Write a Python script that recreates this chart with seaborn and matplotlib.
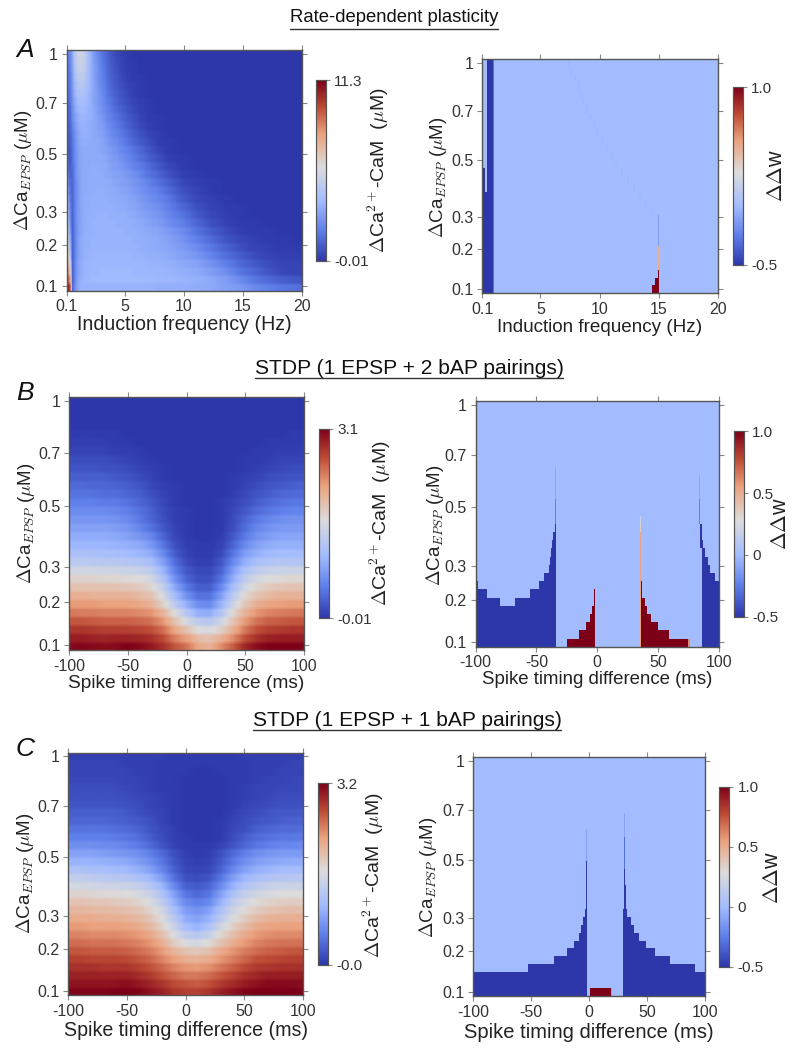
import numpy as np
import matplotlib
matplotlib.use("Agg")
import matplotlib.pyplot as plt
from matplotlib.colors import LinearSegmentedColormap
from matplotlib.lines import Line2D
import seaborn as sns

sns.set_style("white")
plt.rcParams["font.family"] = ["Liberation Sans", "DejaVu Sans"]
plt.rcParams["mathtext.fontset"] = "cm"

W, H = 800, 1053
N_ROWS = 30

# colour scale
CMAP_STOPS = [(0.0, "#2d37aa"), (0.17, "#5f80ea"), (0.33, "#a2bbff"), (0.52, "#dcdcdc"),
              (0.70, "#eba27e"), (0.85, "#bd4a35"), (1.0, "#7c0018")]

# y-axis tick labels and their row position (row units from the top edge)
CA_LABELS = ["1", "0.7", "0.5", "0.3", "0.2", "0.1"]
CA_ROWS = [0.45, 6.65, 12.9, 20.2, 24.3, 29.45]
FREQ_TICKS = [0.1, 5, 10, 15, 20]
FREQ_LABELS = ["0.1", "5", "10", "15", "20"]
DT_TICKS = [-100, -50, 0, 50, 100]
DT_LABELS = ["-100", "-50", "0", "50", "100"]

# ---- Panel A left: percent of colour range at these frequencies above 0.1 Hz; missing values are 0
A_FREQ = [0, .3, .5, .7, .9, 1.1, 1.3, 1.5, 1.75, 2.05, 2.35, 2.65, 3.0, 3.4, 3.8, 4.25, 4.75, 5.25, 5.75,
          6.35, 7.05, 7.75, 8.7, 9.9, 11.1, 12.3, 13.5, 14.7, 15.9, 17.1, 18.3, 19.9]
A_CAM = [
 [18,20,28,40,46,47,47,45,38,30,24,20,15,11,7,4,2,1],
 [18,19,27,39,45,46,46,44,38,31,25,21,16,12,8,5,3,1,1],
 [16,18,26,37,43,45,45,43,37,31,26,22,17,13,9,6,3,2,1],
 [15,17,25,35,41,43,43,41,37,31,26,22,18,14,10,7,4,2,1,1],
 [14,16,24,33,38,40,40,39,36,31,27,23,19,15,11,8,5,3,2,1],
 [13,15,23,31,36,37,37,37,34,30,27,24,20,16,12,9,6,4,2,1],
 [12,14,22,29,33,35,35,35,33,30,27,24,21,17,14,10,7,5,3,2,1],
 [11,13,21,27,31,33,33,33,32,30,28,25,22,19,15,12,9,6,4,2,1],
 [11,12,20,25,29,31,32,32,31,30,28,26,24,20,17,14,11,8,6,3,1,1],
 [10,11,18,24,27,30,31,31,30,29,28,26,25,22,19,16,13,10,7,4,2,1],
 [10,10,16,22,26,29,30,30,30,29,28,27,26,23,20,18,15,12,9,6,3,2],
 [10,9,15,21,25,28,29,29,29,29,28,28,27,25,22,20,17,14,11,8,5,2,1],
 [11,8,14,20,25,27,28,28,28,28,28,28,27,26,24,22,19,17,14,11,7,4,1],
 [14,8,14,20,24,27,28,28,28,28,28,28,28,27,25,24,21,19,16,13,9,6,2,1],
 [18,9,13,19,24,27,28,28,28,29,29,29,28,28,26,25,23,21,18,16,12,8,4,1],
 [24,10,12,19,24,26,28,28,29,29,29,29,29,28,27,26,25,23,21,18,14,11,6,2,1],
 [30,12,12,18,23,26,28,28,29,29,29,29,29,29,28,27,26,25,23,21,17,14,9,4,2,1],
 [36,14,11,18,23,26,28,28,29,29,29,30,30,29,29,28,27,26,24,22,19,17,12,6,3,1],
 [41,16,11,18,23,26,28,29,29,30,30,30,30,30,29,29,28,27,26,24,21,19,15,8,4,2,1],
 [46,18,11,18,23,26,28,29,29,30,30,30,30,30,30,29,29,28,27,25,23,21,17,11,6,3,1,1],
 [50,20,10,18,23,26,28,29,30,30,30,31,31,31,30,30,30,29,28,27,25,23,19,14,8,4,2,1],
 [54,22,10,17,23,26,28,29,30,30,31,31,31,31,31,30,30,30,29,28,26,25,21,17,11,6,3,1,1],
 [58,25,10,17,23,26,28,29,30,30,31,31,31,31,31,31,31,30,30,29,28,27,24,20,14,9,5,2,1,1],
 [62,30,10,17,23,27,29,30,30,31,31,31,31,31,31,31,31,31,30,30,29,28,26,22,17,12,7,4,2,1,1],
 [66,35,10,17,24,27,29,30,30,31,31,31,31,31,31,31,31,31,31,30,29,28,27,24,20,15,10,6,3,2,1,1],
 [72,40,10,17,24,27,29,30,31,31,32,32,32,32,32,32,32,32,31,31,30,30,28,26,23,18,13,9,5,3,2,2],
 [78,48,10,18,25,28,30,31,31,32,32,32,32,32,32,32,32,32,32,32,31,31,30,28,26,22,17,12,8,5,3,3],
 [84,58,10,18,25,28,30,31,32,32,32,32,33,33,33,33,33,33,32,32,32,32,31,30,28,25,21,15,11,7,4,3],
 [92,70,10,18,26,29,31,32,32,33,33,33,33,33,33,33,33,33,33,33,33,32,32,31,30,28,25,20,15,12,9,7],
 [100,85,11,20,27,30,31,31,31,31,31,31,31,31,31,31,31,31,31,31,31,30,30,30,29,28,26,24,20,17,15,13],
]

# ---- Panels B and C left: percent of colour range, columns at -100..100 ms, step 10
DT_COLS = [-100, -90, -80, -70, -60, -50, -40, -30, -20, -10, 0, 10, 20, 30, 40, 50, 60, 70, 80, 90, 100]
B_CAM = [
 [0]*21, [0]*21, [0]*21, [0]*21,
 [1,1,1,1,1,0,0,0,0,0,0,0,0,0,0,0,0,0,0,1,1],
 [2,2,2,2,1,1,0,0,0,0,0,0,0,0,0,0,0,1,1,1,1],
 [3,3,3,3,2,2,1,0,0,0,0,0,0,0,0,0,1,1,2,2,2],
 [5,5,5,5,4,3,2,1,0,0,0,0,0,0,0,1,1,2,3,3,3],
 [7,7,7,6,6,5,3,2,1,0,0,0,0,0,0,1,2,3,4,5,5],
 [9,9,9,9,8,7,5,3,1,0,0,0,0,0,1,2,3,5,6,7,7],
 [12,12,11,11,10,9,7,4,2,1,0,0,0,0,1,3,5,7,8,9,10],
 [14,14,14,13,13,11,9,6,3,1,0,0,0,0,2,4,7,9,11,12,12],
 [17,17,17,16,16,14,11,8,4,1,0,0,0,1,3,6,9,12,14,15,15],
 [20,20,20,20,19,17,14,10,5,2,1,0,0,1,4,8,12,15,17,18,18],
 [23,23,23,23,22,20,16,11,6,2,1,0,0,1,5,11,16,19,21,22,22],
 [26,26,26,26,25,23,19,14,8,3,1,0,0,1,6,13,19,22,24,24,24],
 [29,29,29,29,28,26,23,19,11,4,1,0,0,2,8,16,22,25,27,27,27],
 [32,32,32,32,31,30,28,24,15,6,2,1,1,3,11,20,26,29,30,30,30],
 [36,36,36,35,35,34,32,29,20,9,3,1,1,5,15,25,30,33,34,34,34],
 [41,41,41,40,40,39,38,35,26,13,5,2,2,8,20,30,36,38,39,39,39],
 [48,48,48,47,47,46,45,42,32,17,8,4,4,11,25,37,43,45,46,46,46],
 [55,55,55,54,54,53,52,49,38,22,11,6,6,15,30,43,49,52,53,54,54],
 [60,60,60,60,60,59,58,54,44,28,16,9,9,20,36,48,55,58,59,60,60],
 [66,66,65,65,65,65,63,60,50,35,22,14,14,26,42,54,60,63,65,65,65],
 [71,71,71,70,70,70,68,65,56,42,30,21,20,32,47,59,66,69,70,71,71],
 [77,76,76,75,75,75,74,72,64,52,40,30,29,40,54,65,72,75,76,77,77],
 [83,83,82,81,81,81,80,78,72,60,50,42,40,48,60,71,78,81,82,83,83],
 [89,89,88,87,87,87,86,84,79,68,60,52,50,56,66,77,84,87,88,89,89],
 [94,94,93,92,93,93,92,90,85,76,70,62,60,66,74,84,90,93,94,94,94],
 [98,99,98,97,98,100,98,95,90,83,78,68,65,74,82,92,97,100,100,100,99],
]
C_CAM = [
 [2,2,2,2,2,2,2,2,2,1,1,1,1,1,1,2,2,2,2,2,2],
 [3,3,3,3,3,2,2,2,1,1,1,1,1,1,1,1,2,2,2,3,3],
 [3,3,3,3,3,3,2,2,1,1,1,0,0,1,1,1,2,2,3,3,3],
 [4,4,4,4,4,3,3,2,1,1,0,0,0,0,1,1,2,3,3,4,4],
 [5,5,5,5,5,4,3,2,1,1,0,0,0,0,1,2,3,3,4,4,4],
 [6,6,6,6,6,5,4,3,2,1,0,0,0,0,1,2,3,4,5,5,5],
 [7,7,7,7,7,6,5,3,2,1,0,0,0,0,1,3,4,5,6,6,6],
 [9,9,9,9,9,8,6,4,3,1,0,0,0,0,2,4,5,7,8,8,8],
 [11,11,11,11,10,9,8,6,3,1,0,0,0,1,3,5,7,8,9,10,10],
 [14,14,14,14,13,12,10,7,4,2,0,0,0,1,4,6,9,11,12,12,13],
 [17,17,17,17,16,15,13,9,5,2,1,0,0,1,5,9,12,14,15,15,16],
 [21,21,21,20,20,18,16,12,7,3,1,1,1,3,7,11,15,17,19,19,20],
 [26,26,26,25,24,23,21,17,12,6,2,1,2,6,12,17,21,23,24,24,24],
 [31,31,31,30,29,28,25,21,15,8,3,2,3,8,15,21,25,27,28,29,29],
 [37,37,36,35,34,33,30,26,19,10,4,3,4,10,19,26,30,32,34,34,34],
 [43,43,42,41,40,39,37,33,25,14,6,5,7,15,25,32,36,38,39,40,40],
 [49,49,48,47,47,46,44,40,32,20,10,8,11,20,31,38,42,45,46,46,46],
 [55,55,54,53,53,52,50,46,38,26,15,12,15,26,37,44,48,50,52,52,52],
 [60,60,59,59,58,57,55,51,43,31,20,17,20,31,42,49,53,55,57,57,57],
 [64,64,63,63,62,61,59,55,48,36,25,22,26,37,47,53,57,60,61,62,62],
 [67,67,67,66,66,65,63,59,52,41,29,26,31,42,51,57,62,65,66,66,66],
 [71,71,70,70,70,69,67,63,56,46,35,31,37,48,56,62,67,69,70,70,70],
 [75,75,74,74,74,73,71,68,61,51,43,40,45,54,61,67,71,73,74,74,74],
 [79,79,78,78,78,77,75,72,66,57,51,49,53,60,66,71,75,77,78,78,78],
 [83,83,82,82,82,81,79,76,71,64,60,58,61,67,72,76,79,81,82,83,83],
 [87,87,86,86,86,85,83,80,75,70,66,65,67,72,76,80,84,85,86,87,87],
 [90,90,90,89,89,89,87,84,80,75,72,71,73,77,81,85,88,89,90,90,90],
 [93,93,93,93,93,93,91,88,84,80,77,77,79,83,86,90,92,94,94,94,94],
 [96,96,96,96,96,97,95,92,89,85,83,82,84,88,91,94,96,98,98,98,97],
 [99,99,99,99,100,100,99,96,93,89,87,87,89,93,96,99,100,100,100,100,99],
]

# ---- Right panels: (row, x from, x to, delta-w) patches over a background of 0
A_W_PATCHES = (
    [(k, 0.5, 1.0, -0.5) for k in range(30)] + [(k, 1.0, 1.1, -0.3) for k in range(30)]
    + [(k, 0.1, 0.5, -0.5) for k in range(17, 30)] + [(k, 0.1, 0.2, -0.5) for k in (12, 13)]
    + [(k, 0.1, 0.3, -0.5) for k in (14, 15, 16)] + [(k, 0.3, 0.5, 0.03) for k in (14, 15, 16)]
    + [(29, 14.4, 15.0, 1.0), (28, 14.7, 15.0, 1.0), (27, 14.9, 15.0, 1.0)]
    + [(k, 14.9, 15.0, 0.5) for k in (24, 25, 26)] + [(k, 14.9, 15.0, -0.12) for k in (20, 21, 22, 23)]
)
A_W_FAINT = [7.3,7.5,7.8,8.1,8.3,8.5,8.8,9.1,9.4,9.7,10.1,10.5,10.9,11.3,11.8,12.3,12.8,13.3,13.8,14.3,14.8]

B_W_PATCHES = (
    [(k, -100, -34, -0.5) for k in (25, 26, 27, 28, 29)]
    + [(24, -100, -80, -0.5), (24, -68, -34, -0.5), (23, -100, -91, -0.5), (23, -55, -34, -0.5),
       (22, -100, -98, -0.5), (22, -48, -34, -0.5), (21, -44, -34, -0.5), (20, -40, -34, -0.5),
       (19, -39, -34, -0.5), (18, -38, -34, -0.5), (17, -37, -34, -0.5), (16, -36, -34, -0.5),
       (15, -35, -34, -0.5)]
    + [(k, -35, -34, -0.08) for k in range(8, 12)] + [(k, -35, -34, -0.25) for k in range(12, 15)]
    + [(k, 86, 100, -0.5) for k in range(22, 30)]
    + [(21, 86, 97, -0.5), (20, 86, 93, -0.5), (19, 86, 91, -0.5), (18, 86, 89, -0.5),
       (17, 85, 87, -0.5), (16, 85, 86, -0.5), (15, 85, 86, -0.5)]
    + [(k, 84, 85, -0.08) for k in range(9, 12)] + [(k, 84, 85, -0.25) for k in range(12, 15)]
    + [(29, -25, -2, 1.0), (28, -15, -2, 1.0), (27, -9, -2, 1.0), (26, -6, -2, 1.0),
       (25, -4, -2, 1.0), (24, -3, -2, 1.0), (23, -3, -2, 1.0)]
    + [(29, 36, 75, 1.0), (29, 75, 76, 0.6), (28, 36, 59, 1.0), (27, 36, 50, 1.0), (26, 36, 44, 1.0),
       (25, 36, 41, 1.0), (24, 36, 39, 1.0), (23, 36, 37, 1.0), (22, 36, 37, 1.0)]
    + [(k, 35, 36, 0.55) for k in range(16, 30)] + [(14, 35, 36, 0.2), (15, 35, 36, 0.35)]
)

C_W_PATCHES = (
    [(k, -100, -2, -0.5) for k in (27, 28, 29)]
    + [(26, -53, -2, -0.5), (25, -30, -2, -0.5), (24, -19, -2, -0.5), (23, -13, -2, -0.5),
       (22, -9, -2, -0.5), (21, -7, -2, -0.5), (20, -5, -2, -0.5), (19, -4, -2, -0.5),
       (18, -3, -2, -0.5), (17, -3, -2, -0.5)]
    + [(k, -3, -2, -0.5) for k in range(13, 17)] + [(k, -3, -2, -0.1) for k in range(9, 13)]
    + [(k, 29, 100, -0.5) for k in (27, 28, 29)]
    + [(26, 29, 91, -0.5), (25, 29, 70, -0.5), (24, 29, 57, -0.5), (23, 29, 49, -0.5),
       (22, 29, 43, -0.5), (21, 29, 39, -0.5), (20, 29, 36, -0.5), (19, 29, 33, -0.5),
       (18, 30, 32, -0.5), (17, 30, 32, -0.5), (16, 30, 32, -0.5), (15, 30, 31, -0.5), (14, 30, 31, -0.5)]
    + [(k, 30, 31, -0.3) for k in range(10, 14)] + [(k, 30, 31, -0.1) for k in range(7, 10)]
    + [(29, 1, 19, 1.0), (29, 19, 20, 0.6)]
)

# ---- Layout in reference pixels: axes and colourbar (left, right, top, bottom), label centres, x-label size
PANELS = {
    "AL": dict(ax=(66.7, 301.7, 50, 290.7), cb=(316, 326, 80, 261), xl=(184, 325), yl=(23, 170), cl=(378, 170), xs=14.1),
    "AR": dict(ax=(482.3, 718.3, 59, 293.3), cb=(732.7, 742.7, 87.3, 265), xl=(600, 327), yl=(438, 177), cl=(777, 175), xs=13.6),
    "BL": dict(ax=(69, 304, 397.3, 650), cb=(319, 329, 429, 618.3), xl=(186, 683), yl=(26, 523), cl=(380, 523), xs=13.8),
    "BR": dict(ax=(475.7, 718.7, 401, 646.7), cb=(733.7, 743.7, 431.3, 616.7), xl=(597, 680), yl=(435, 525), cl=(780, 523), xs=13.4),
    "CL": dict(ax=(68, 303.3, 752.7, 995), cb=(318, 328, 783.3, 965), xl=(186, 1030), yl=(25, 873), cl=(373, 875), xs=14.1),
    "CR": dict(ax=(473.3, 705, 757.3, 996.3), cb=(719.3, 729.3, 786.7, 966.7), xl=(589, 1032), yl=(428, 877), cl=(772, 877), xs=14.5),
}
TITLES = [("Rate-dependent plasticity", 394, 18, 290, 498, 28.5, 13.3),
          ("STDP (1 EPSP + 2 bAP pairings)", 409, 369, 255, 563, 378, 15.1),
          ("STDP (1 EPSP + 1 bAP pairings)", 407, 721, 253, 561, 729.5, 15.1)]
LETTERS = [("A", 25, 50), ("B", 25, 393), ("C", 25, 749)]

CA_LABEL = r"$\Delta$Ca$_{EPSP}$ ($\mu$M)"
CAM_LABEL = r"$\Delta$Ca$^{2+}$-CaM  ($\mu$M)"
W_LABEL = r"$\Delta\Delta$w"
FREQ_LABEL = "Induction frequency (Hz)"
DT_LABEL = "Spike timing difference (ms)"

cmap = LinearSegmentedColormap.from_list("cam", CMAP_STOPS, N=512)
fig = plt.figure(figsize=(W/100, H/100), dpi=100)


def rect(l, r, t, b):
    return [l/W, 1-b/H, (r-l)/W, (b-t)/H]


def style(ax, key, xticks_frac, xlabels, xlabel, clabel, csize, cax, cticks, clabels, nx, ny):
    p = PANELS[key]
    for s in ax.spines.values():
        s.set_visible(True); s.set_color("#555555"); s.set_linewidth(1.0)
    ax.set_xticks([f*nx for f in xticks_frac]); ax.set_xticklabels(xlabels)
    ax.set_yticks([r/N_ROWS*ny for r in CA_ROWS]); ax.set_yticklabels(CA_LABELS, rotation=0)
    ax.tick_params(axis="both", length=3.8, width=0.8, color="#888888", labelcolor="#333333",
                   labelsize=11.5, pad=2.5, top=True, right=True, bottom=True, left=True,
                   labeltop=False, labelright=False)
    plt.setp(ax.get_xticklabels(), rotation=0)
    ax.set_xlabel(xlabel, fontsize=p["xs"], color="#222222", va="center")
    ax.xaxis.set_label_coords(p["xl"][0]/W, 1-p["xl"][1]/H, transform=fig.transFigure)
    ax.set_ylabel(CA_LABEL, fontsize=13.5, color="#222222", va="center", rotation=90)
    ax.yaxis.set_label_coords(p["yl"][0]/W, 1-p["yl"][1]/H, transform=fig.transFigure)
    cax.set_yticks(cticks); cax.set_yticklabels(clabels)
    cax.tick_params(length=3.0, width=0.8, color="#888888", labelcolor="#333333", labelsize=11, pad=3, right=True, left=False)
    for s in cax.spines.values():
        s.set_visible(True); s.set_color("#555555"); s.set_linewidth(0.8)
    cax.set_ylabel(clabel, fontsize=csize, color="#222222", va="center", rotation=90)
    cax.yaxis.set_label_coords(p["cl"][0]/W, 1-p["cl"][1]/H, transform=fig.transFigure)


def smooth_panel(key, table, xs, n_fine, vmax, vmin, xfrac, xlabels, xlabel, cticks, clabels):
    """Rows stay as soft bands; colour is shaded along x between the read columns, as in the reference."""
    p = PANELS[key]
    ax = fig.add_axes(rect(*p["ax"])); cax = fig.add_axes(rect(*p["cb"]))
    x = np.asarray(xs, float)
    pct = np.array([list(r) + [0]*(len(x)-len(r)) for r in table], float)
    z = vmin + pct/100*(vmax-vmin)
    fine = np.linspace(x[0], x[-1], n_fine)
    shaded = np.array([np.interp(fine, x, row) for row in z])
    shown = np.repeat(shaded, 3, axis=0)
    sns.heatmap(shown, ax=ax, cbar_ax=cax, cmap=cmap, vmin=vmin, vmax=vmax, xticklabels=False,
                yticklabels=False, shading="gouraud")
    ny, nx = shown.shape[0]-1, shown.shape[1]-1
    ax.set_xlim(0, nx); ax.set_ylim(ny, 0)
    style(ax, key, xfrac, xlabels, xlabel, CAM_LABEL, 14, cax, cticks, clabels, nx, ny)


def step_panel(key, n_cols, x0, dx, patches, xfrac, xlabels, xlabel, cticks, clabels, faint=None):
    p = PANELS[key]
    ax = fig.add_axes(rect(*p["ax"])); cax = fig.add_axes(rect(*p["cb"]))
    z = np.zeros((N_ROWS, n_cols))
    if faint:
        for k, f in enumerate(faint):
            i = int(round((f-x0)/dx)); z[k, i:i+2] = -0.012
    for k, a, b, v in patches:
        z[k, int(round((a-x0)/dx)):int(round((b-x0)/dx))] = v
    sns.heatmap(z, ax=ax, cbar_ax=cax, cmap=cmap, vmin=-0.5, vmax=1.0, xticklabels=False, yticklabels=False)
    style(ax, key, xfrac, xlabels, xlabel, W_LABEL, 15.5, cax, cticks, clabels, n_cols, N_ROWS)


freq_frac = [(f-0.1)/19.9 for f in FREQ_TICKS]
dt_frac = [(t+100)/200 for t in DT_TICKS]

smooth_panel("AL", A_CAM, A_FREQ, 200, 11.3, -0.01, freq_frac, FREQ_LABELS, FREQ_LABEL, [-0.01, 11.3], ["-0.01", "11.3"])
step_panel("AR", 199, 0.1, 0.1, A_W_PATCHES, freq_frac, FREQ_LABELS, FREQ_LABEL, [-0.5, 1.0], ["-0.5", "1.0"], faint=A_W_FAINT)
smooth_panel("BL", B_CAM, DT_COLS, 101, 3.1, -0.01, dt_frac, DT_LABELS, DT_LABEL, [-0.01, 3.1], ["-0.01", "3.1"])
step_panel("BR", 200, -100, 1, B_W_PATCHES, dt_frac, DT_LABELS, DT_LABEL, [-0.5, 0, 0.5, 1.0], ["-0.5", "0", "0.5", "1.0"])
smooth_panel("CL", C_CAM, DT_COLS, 101, 3.2, -0.0, dt_frac, DT_LABELS, DT_LABEL, [0.0, 3.2], ["-0.0", "3.2"])
step_panel("CR", 200, -100, 1, C_W_PATCHES, dt_frac, DT_LABELS, DT_LABEL, [-0.5, 0, 0.5, 1.0], ["-0.5", "0", "0.5", "1.0"])

for text, cx, cy, x0, x1, uy, fs in TITLES:
    fig.text(cx/W, 1-cy/H, text, ha="center", va="center", fontsize=fs, color="#111111")
    fig.add_artist(Line2D([x0/W, x1/W], [1-uy/H, 1-uy/H], color="#333333", lw=1.0))
for text, cx, cy in LETTERS:
    fig.text(cx/W, 1-cy/H, text, ha="center", va="center", fontsize=19, style="italic", color="#111111")

fig.savefig("out.png", dpi=100)
